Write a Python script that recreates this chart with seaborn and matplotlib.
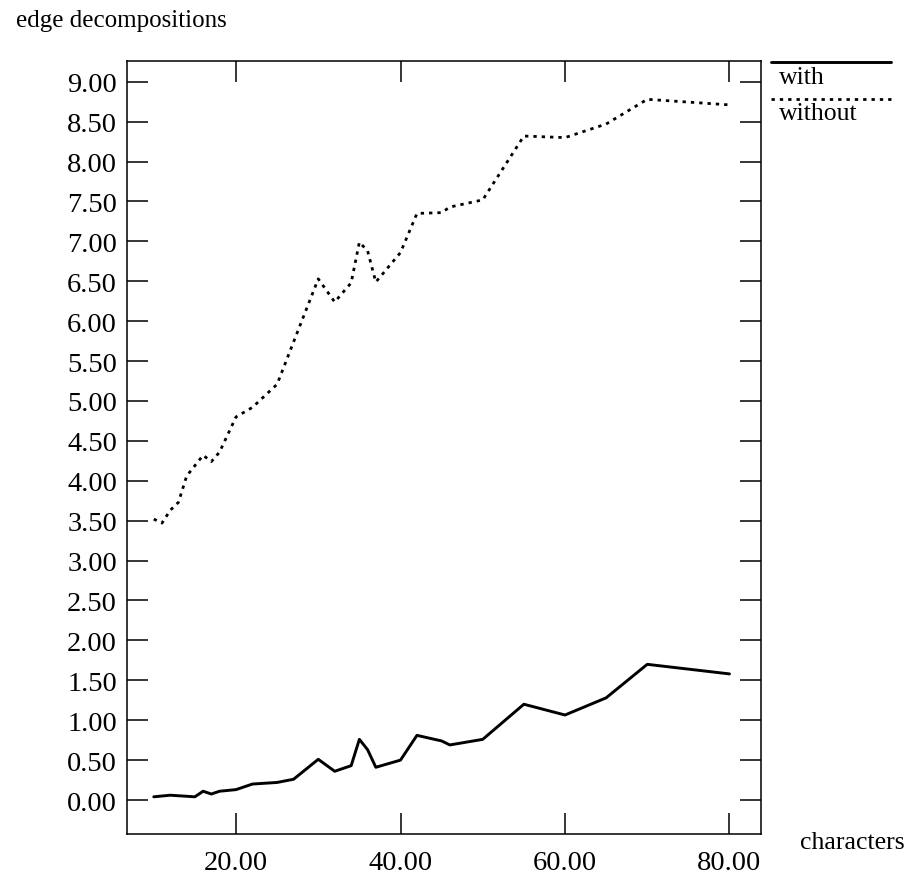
import matplotlib
matplotlib.use("Agg")
import matplotlib.pyplot as plt
from matplotlib.lines import Line2D
from matplotlib.ticker import FormatStrFormatter, MultipleLocator
import seaborn as sns
import pandas as pd

# Edge decompositions versus string length (characters)
x_with = [10, 12, 15, 16, 17, 18, 20, 22, 25, 27, 30, 32, 34, 35, 36, 37,
          40, 42, 45, 46, 50, 55, 60, 65, 70, 80]
y_with = [0.04, 0.06, 0.04, 0.11, 0.075, 0.11, 0.13, 0.20, 0.22, 0.26, 0.51,
          0.36, 0.43, 0.76, 0.63, 0.41, 0.50, 0.81, 0.74, 0.69, 0.76, 1.20,
          1.065, 1.28, 1.70, 1.58]

x_without = [10, 11, 12, 13, 14, 15, 16, 17, 18, 20, 22, 25, 27, 30, 32, 34,
             35, 36, 37, 40, 42, 45, 46, 50, 55, 60, 65, 70, 80]
y_without = [3.52, 3.47, 3.63, 3.73, 4.06, 4.19, 4.32, 4.24, 4.36, 4.80, 4.92,
             5.21, 5.74, 6.53, 6.24, 6.48, 6.99, 6.88, 6.49, 6.86, 7.35, 7.36,
             7.43, 7.52, 8.32, 8.30, 8.47, 8.78, 8.71]

series_names = ["with", "without"]
x_tick_values = [20, 40, 60, 80]

df_with = pd.DataFrame({"characters": x_with, "value": y_with, "series": series_names[0]})
df_without = pd.DataFrame({"characters": x_without, "value": y_without, "series": series_names[1]})

sns.set_theme(style="ticks")
plt.rcParams["font.family"] = ["Liberation Serif", "DejaVu Serif"]

W, H = 913, 879
fig = plt.figure(figsize=(W / 100, H / 100), dpi=100)
ax = fig.add_axes([126.7 / W, 1 - 835 / H, (760.5 - 126.7) / W, (835 - 62) / H])

dotted = (0, (1.2, 1.8))
sns.lineplot(data=df_with, x="characters", y="value", estimator=None,
             color="black", linewidth=2.1, ax=ax, legend=False)
sns.lineplot(data=df_without, x="characters", y="value", estimator=None,
             color="black", linewidth=2.0, linestyle=dotted, ax=ax, legend=False)

ax.set_xlim(6.71, 83.77)
ax.set_ylim(-0.426, 9.26)
ax.set_xticks(x_tick_values)
ax.yaxis.set_major_locator(MultipleLocator(0.5))
ax.xaxis.set_major_formatter(FormatStrFormatter("%.2f"))
ax.yaxis.set_major_formatter(FormatStrFormatter("%.2f"))
ax.set_xlabel("")
ax.set_ylabel("")

for sp in ax.spines.values():
    sp.set_visible(True)
    sp.set_linewidth(1.1)
    sp.set_color("black")

ax.tick_params(axis="both", direction="in", length=15, width=1.1, color="black",
               top=True, right=True, labeltop=False, labelright=False,
               labelsize=20.5, labelcolor="black")
ax.tick_params(axis="x", pad=11.5)
ax.tick_params(axis="y", pad=7)

# Axis captions
fig.text(16 / W, 1 - 27 / H, "edge decompositions", fontsize=18,
         ha="left", va="baseline", color="black")
fig.text(800 / W, 1 - 849 / H, "characters", fontsize=18.5,
         ha="left", va="baseline", color="black")

# Key placed beside the plot: sample line above each name
fig.add_artist(Line2D([771 / W, 891 / W], [1 - 63 / H, 1 - 63 / H],
                      transform=fig.transFigure, color="black", linewidth=2.1))
fig.text(779 / W, 1 - 84 / H, series_names[0], fontsize=18.5,
         ha="left", va="baseline", color="black")
fig.add_artist(Line2D([771 / W, 891 / W], [1 - 99.5 / H, 1 - 99.5 / H],
                      transform=fig.transFigure, color="black", linewidth=2.0,
                      linestyle=dotted))
fig.text(779 / W, 1 - 120.5 / H, series_names[1], fontsize=18.5,
         ha="left", va="baseline", color="black")

fig.savefig("out.png", dpi=100, facecolor="white")
